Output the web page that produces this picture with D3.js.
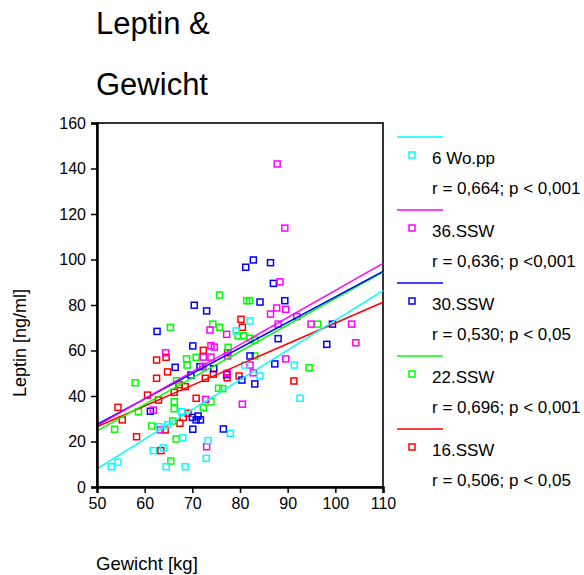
<!DOCTYPE html>
<html>
<head>
<meta charset="utf-8">
<script src="https://cdn.jsdelivr.net/npm/d3@7"></script>
<style>
  body { margin: 0; background: #fff; }
  svg { display: block; font-family: "Liberation Sans", Arial, sans-serif; }
</style>
</head>
<body>
<svg width="584" height="575"></svg>
<script>
(function(){
  'use strict';

  var WIDTH = 584;
  var HEIGHT = 575;

  var padding = { top: 123, bottom: 88, left: 97, right: 201 };

  // series, legend order
  var categories = ['6 Wo.pp', '36.SSW', '30.SSW', '22.SSW', '16.SSW'];
  var stats = ['r = 0,664; p < 0,001', 'r = 0,636; p <0,001', 'r = 0,530; p < 0,05',
               'r = 0,696; p < 0,001', 'r = 0,506; p < 0,05'];
  var colors = ['#00ffff', '#ff00ff', '#0000ff', '#00ff00', '#ff0000'];

  var xTicks = [50, 60, 70, 80, 90, 100, 110];
  var yTicks = [0, 20, 40, 60, 80, 100, 120, 140, 160];

  // regression line values at x = 50 and x = 110
  var fitAt50 = [8.0, 26.9, 27.5, 24.7, 26.5];
  var fitAt110 = [86.3, 98.3, 94.8, 94.5, 81.2];

  // [Gewicht, Leptin]
  var wopp6 = [[79.2,68.6],[82.1,73.0],[81.0,53.6],[84.2,48.8],[91.4,53.6],[92.6,39.0],
    [78.0,23.6],[73.3,20.4],[72.9,12.6],[68.0,21.6],[63.0,26.5],[64.8,27.4],[67.8,33.1],
    [61.8,16.0],[63.9,17.1],[53.0,8.9],[54.4,10.9],[64.5,8.9],[68.5,8.9]];
  var ssw36 = [[87.8,142],[89.4,113.8],[88.4,90.2],[87.7,78.7],[89.6,78.1],[86.4,76.0],
    [91.9,74.9],[88.0,71.6],[94.9,71.6],[103.4,71.6],[104.3,63.4],[89.6,56.3],[82.1,53.6],
    [82.8,50.2],[80.5,36.4],[73.7,69.0],[77.2,67.1],[73.9,62.1],[74.6,61.5],[64.4,59.0],
    [72.3,57.1],[73.9,57.1],[77.4,57.6],[72.2,53.0],[77.3,50.0],[61.8,33.8],[63.3,25.1],
    [73.0,17.7],[72.8,38.5]];
  var ssw30 = [[81.2,96.6],[82.8,99.8],[86.4,98.6],[87.0,89.5],[84.2,81.3],[89.4,81.9],
    [88.0,65.2],[98.2,62.7],[99.4,71.6],[82.1,57.6],[87.3,54.1],[83.1,45.3],[80.4,47.0],
    [70.4,79.9],[73.0,77.4],[62.6,68.4],[70.1,62.0],[66.4,52.6],[71.6,52.9],[74.5,52.0],
    [69.7,49.2],[77.2,49.4],[61.2,33.3],[70.0,30.6],[71.2,31.2],[71.7,29.5],[70.8,29.5],
    [70.1,25.4],[76.5,25.5]];
  var ssw22 = [[75.7,84.4],[65.4,70.2],[74.3,71.6],[75.7,70.2],[79.6,66.5],[80.7,66.5],
    [81.4,81.9],[82.0,81.9],[82.1,65.4],[83.1,64.6],[83.1,57.6],[94.5,52.4],[96.3,71.6],
    [77.5,61.4],[68.8,56.3],[70.8,57.0],[68.9,53.6],[66.7,46.7],[75.5,43.4],[58.0,45.8],
    [58.7,33.1],[53.7,25.4],[61.5,26.8],[65.9,29.0],[66.2,37.5],[66.2,34.4],[72.3,34.9],
    [73.9,37.5],[76.4,43.2],[66.6,21.1],[65.5,11.4]];
  var ssw16 = [[80.2,73.7],[80.5,70.2],[72.3,60.1],[77.4,59.0],[64.5,57.0],[62.5,55.8],
    [64.8,50.6],[62.5,47.8],[72.7,47.8],[74.4,49.6],[67.2,45.0],[68.5,44.1],[60.6,40.4],
    [66.2,41.6],[54.4,35.0],[55.3,29.5],[58.3,22.1],[64.3,25.1],[63.4,16.0],[67.4,28.0],
    [68.1,30.6],[69.1,32.4],[70.8,39.0],[62.9,38.2],[77.3,48.0],[79.8,48.8],[91.3,46.6]];

  var seriesPoints = [wopp6, ssw36, ssw30, ssw22, ssw16];

  var svg = d3.select('svg');

  var xScale = d3.scaleLinear()
    .domain([50, 110])
    .range([padding.left, WIDTH - padding.right]);

  var yScale = d3.scaleLinear()
    .domain([0, 160])
    .range([HEIGHT - padding.bottom, padding.top]);

  // title
  svg.append('text').attr('x', 96).attr('y', 34)
    .attr('font-size', 31).text('Leptin &');
  svg.append('text').attr('x', 96).attr('y', 95)
    .attr('font-size', 31).text('Gewicht');

  // frame
  svg.append('rect')
    .attr('x', padding.left).attr('y', padding.top)
    .attr('width', WIDTH - padding.left - padding.right)
    .attr('height', HEIGHT - padding.top - padding.bottom)
    .attr('fill', 'none').attr('stroke', '#333').attr('stroke-width', 2);

  // points, drawn back to front
  var order = [4, 3, 2, 1, 0];
  order.forEach(function(s) {
    svg.append('g').selectAll('rect')
      .data(seriesPoints[s])
      .enter()
      .append('rect')
      .attr('x', function(d) { return xScale(d[0]) - 3; })
      .attr('y', function(d) { return yScale(d[1]) - 3; })
      .attr('width', 6).attr('height', 6)
      .attr('fill', 'none')
      .attr('stroke', colors[s])
      .attr('stroke-width', 1.5);
  });

  // regression lines
  order.forEach(function(s) {
    svg.append('line')
      .attr('x1', xScale(50)).attr('y1', yScale(fitAt50[s]))
      .attr('x2', xScale(110)).attr('y2', yScale(fitAt110[s]))
      .attr('stroke', colors[s]).attr('stroke-width', 1.5);
  });

  // axes
  svg.append('g')
    .attr('class', 'axis')
    .attr('transform', 'translate(0,' + (HEIGHT - padding.bottom) + ')')
    .call(d3.axisBottom(xScale).tickValues(xTicks).tickSize(6).tickPadding(5));

  svg.append('g')
    .attr('class', 'axis')
    .attr('transform', 'translate(' + padding.left + ',0)')
    .call(d3.axisLeft(yScale).tickValues(yTicks).tickSize(6).tickPadding(5));

  svg.selectAll('.axis path').attr('stroke', '#000').attr('stroke-width', 2.5);
  svg.selectAll('.axis line').attr('stroke', '#000').attr('stroke-width', 1.5);
  svg.selectAll('.axis text')
    .attr('font-family', '"Liberation Sans", Arial, sans-serif')
    .attr('font-size', 16).attr('fill', '#000');

  // axis titles
  svg.append('text')
    .attr('transform', 'translate(26,' + 343 + ') rotate(-90)')
    .attr('text-anchor', 'middle')
    .attr('font-size', 18).text('Leptin [ng/ml]');

  svg.append('text').attr('x', 96).attr('y', 570)
    .attr('font-size', 18.5).text('Gewicht [kg]');

  // legend
  var legend = svg.append('g');
  categories.forEach(function(name, i) {
    var y0 = 137 + i * 73;
    legend.append('line')
      .attr('x1', 397).attr('x2', 443).attr('y1', y0).attr('y2', y0)
      .attr('stroke', colors[i]).attr('stroke-width', 1.5);
    legend.append('rect')
      .attr('x', 409).attr('y', y0 + 15).attr('width', 6).attr('height', 6)
      .attr('fill', 'none').attr('stroke', colors[i]).attr('stroke-width', 1.5);
    legend.append('text')
      .attr('x', 432).attr('y', y0 + 27)
      .attr('font-size', 17).text(name);
    legend.append('text')
      .attr('x', 432).attr('y', y0 + 57)
      .attr('font-size', 17).text(stats[i]);
  });
})();
</script>
</body>
</html>
